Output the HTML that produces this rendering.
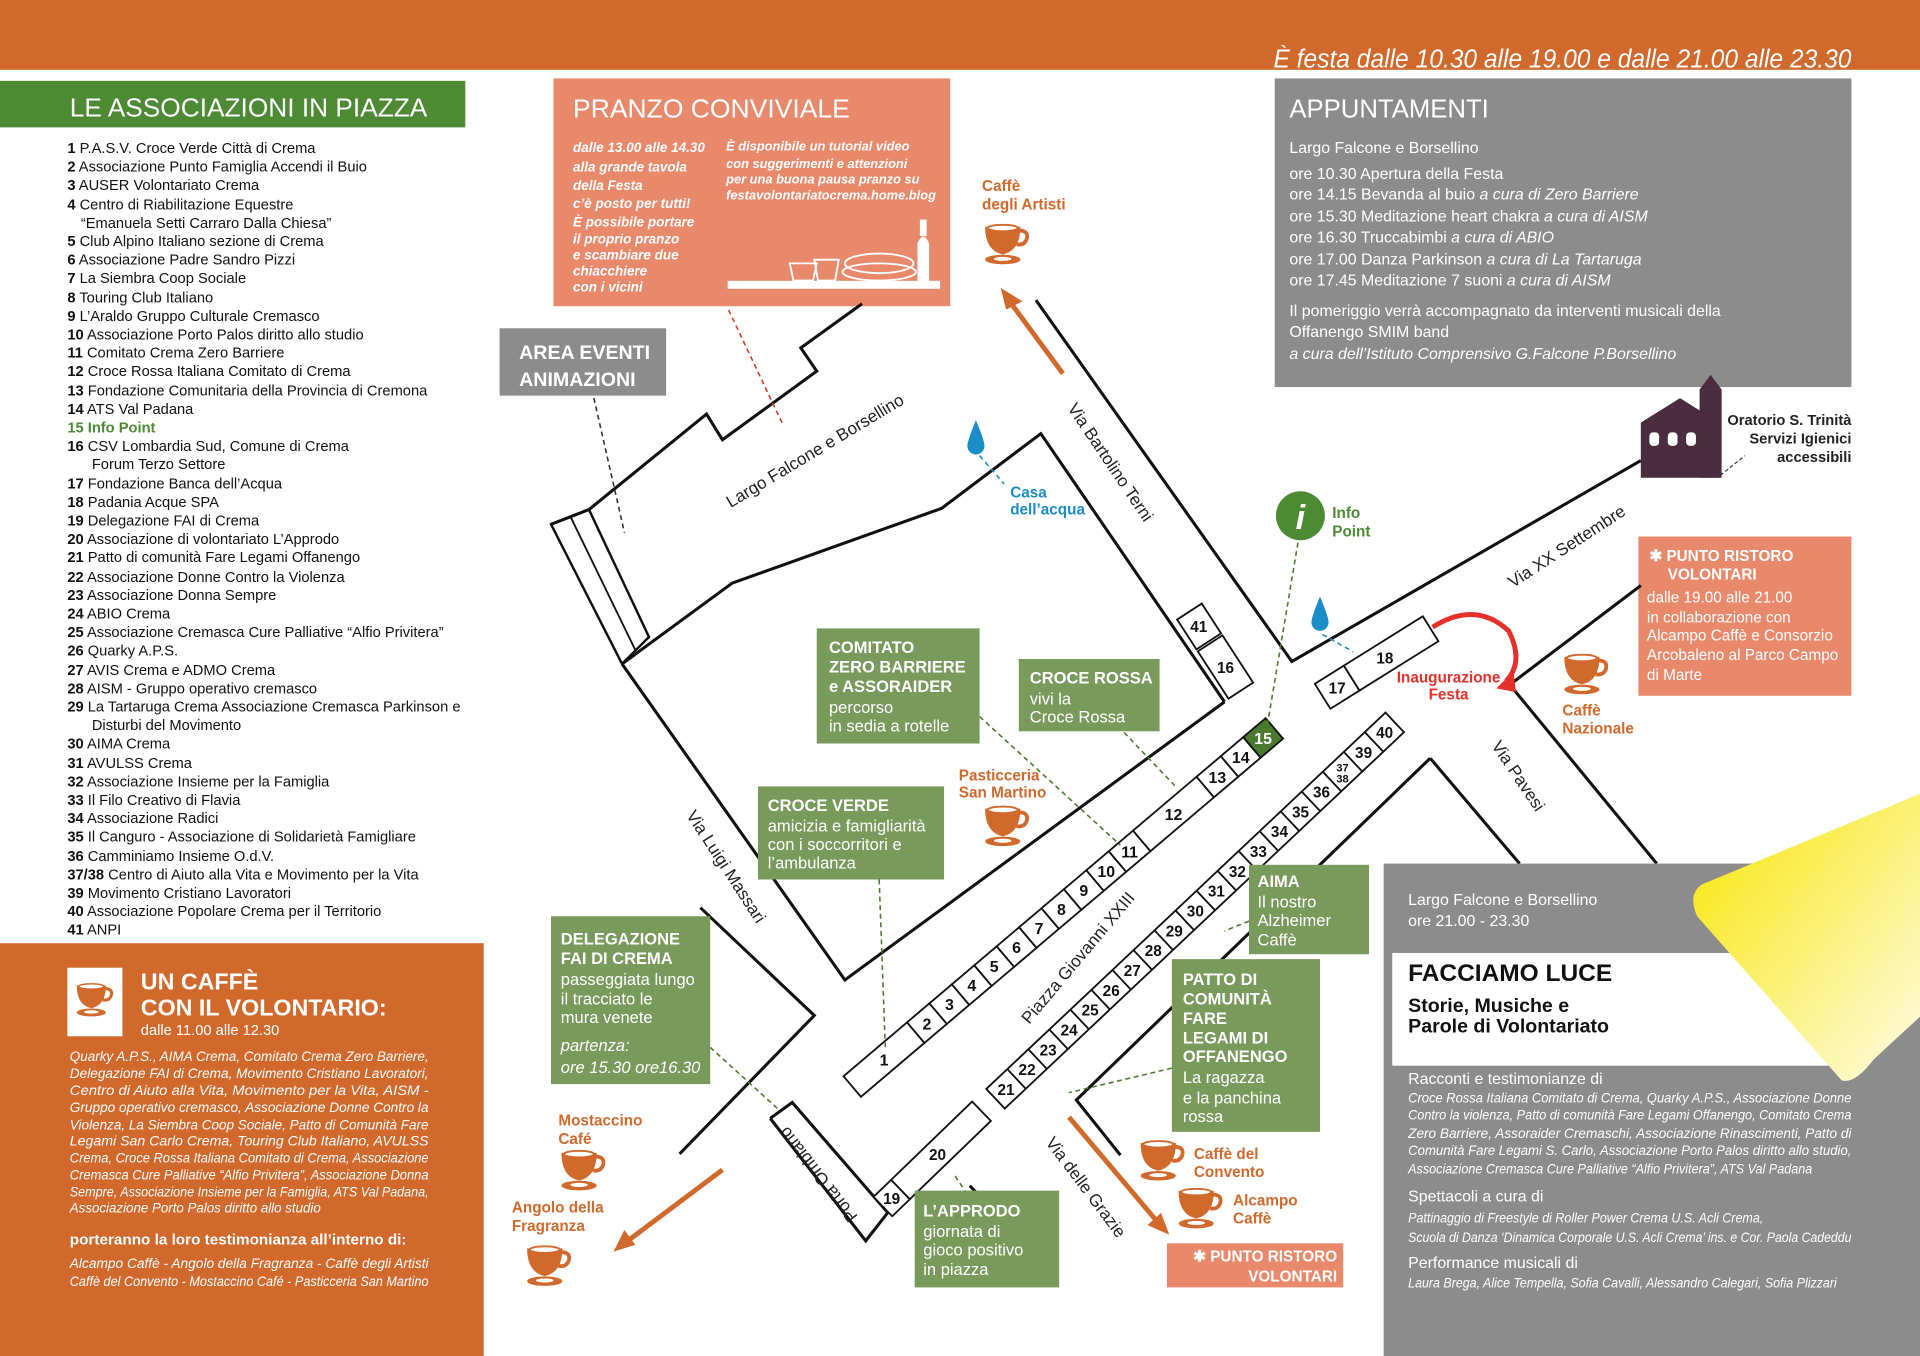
<!DOCTYPE html>
<html><head><meta charset="utf-8"><style>
html,body{margin:0;padding:0;background:#fff;}
svg{display:block;font-family:"Liberation Sans",sans-serif;}
</style></head><body>
<svg width="1920" height="1356" viewBox="0 0 1568 1107" preserveAspectRatio="none" xmlns="http://www.w3.org/2000/svg">
<defs>
<symbol id="cup" viewBox="0 0 40 36">
<path d="M2 5 H30 Q30 24 16 27 Q2 24 2 5 Z" fill="#d0692b"/>
<ellipse cx="16" cy="6" rx="12" ry="2.6" fill="#fff" stroke="#d0692b" stroke-width="1.5"/>
<path d="M29 8 Q37 8 35 15 Q33 20 27 19" fill="none" stroke="#d0692b" stroke-width="3"/>
<ellipse cx="16" cy="31" rx="14" ry="3.8" fill="#d0692b"/>
<ellipse cx="16" cy="30.5" rx="7" ry="1.6" fill="#fff"/>
</symbol>
<linearGradient id="beam" x1="0" y1="0" x2="1" y2="1">
<stop offset="0" stop-color="#f7e600"/><stop offset="1" stop-color="#fffbe6"/>
</linearGradient>
</defs>

<rect x="0" y="0" width="1568" height="57" fill="#d0692b"/>
<text x="1040" y="55" font-size="21" font-style="italic" fill="#fff" textLength="472" lengthAdjust="spacingAndGlyphs">È festa dalle 10.30 alle 19.00 e dalle 21.00 alle 23.30</text>

<rect x="0" y="66" width="380" height="38" fill="#4d8a34"/>
<text x="57" y="95" font-size="21" fill="#fff" textLength="292" lengthAdjust="spacingAndGlyphs">LE ASSOCIAZIONI IN PIAZZA</text>

<g font-size="12" fill="#111">
<text x="55" y="125"><tspan font-weight="bold">1</tspan> P.A.S.V. Croce Verde Città di Crema</text>
<text x="55" y="140"><tspan font-weight="bold">2</tspan> Associazione Punto Famiglia Accendi il Buio</text>
<text x="55" y="155"><tspan font-weight="bold">3</tspan> AUSER Volontariato Crema</text>
<text x="55" y="171"><tspan font-weight="bold">4</tspan> Centro di Riabilitazione Equestre</text>
<text x="66" y="186">“Emanuela Setti Carraro Dalla Chiesa”</text>
<text x="55" y="201"><tspan font-weight="bold">5</tspan> Club Alpino Italiano sezione di Crema</text>
<text x="55" y="216"><tspan font-weight="bold">6</tspan> Associazione Padre Sandro Pizzi</text>
<text x="55" y="231"><tspan font-weight="bold">7</tspan> La Siembra Coop Sociale</text>
<text x="55" y="247"><tspan font-weight="bold">8</tspan> Touring Club Italiano</text>
<text x="55" y="262"><tspan font-weight="bold">9</tspan> L’Araldo Gruppo Culturale Cremasco</text>
<text x="55" y="277"><tspan font-weight="bold">10</tspan> Associazione Porto Palos diritto allo studio</text>
<text x="55" y="292"><tspan font-weight="bold">11</tspan> Comitato Crema Zero Barriere</text>
<text x="55" y="307"><tspan font-weight="bold">12</tspan> Croce Rossa Italiana Comitato di Crema</text>
<text x="55" y="323"><tspan font-weight="bold">13</tspan> Fondazione Comunitaria della Provincia di Cremona</text>
<text x="55" y="338"><tspan font-weight="bold">14</tspan> ATS Val Padana</text>
<text x="55" y="353" fill="#4d8a34" font-weight="bold">15 Info Point</text>
<text x="55" y="368"><tspan font-weight="bold">16</tspan> CSV Lombardia Sud, Comune di Crema</text>
<text x="75" y="383">Forum Terzo Settore</text>
<text x="55" y="399"><tspan font-weight="bold">17</tspan> Fondazione Banca dell’Acqua</text>
<text x="55" y="414"><tspan font-weight="bold">18</tspan> Padania Acque SPA</text>
<text x="55" y="429"><tspan font-weight="bold">19</tspan> Delegazione FAI di Crema</text>
<text x="55" y="444"><tspan font-weight="bold">20</tspan> Associazione di volontariato L’Approdo</text>
<text x="55" y="459"><tspan font-weight="bold">21</tspan> Patto di comunità Fare Legami Offanengo</text>
<text x="55" y="475"><tspan font-weight="bold">22</tspan> Associazione Donne Contro la Violenza</text>
<text x="55" y="490"><tspan font-weight="bold">23</tspan> Associazione Donna Sempre</text>
<text x="55" y="505"><tspan font-weight="bold">24</tspan> ABIO Crema</text>
<text x="55" y="520"><tspan font-weight="bold">25</tspan> Associazione Cremasca Cure Palliative “Alfio Privitera”</text>
<text x="55" y="535"><tspan font-weight="bold">26</tspan> Quarky A.P.S.</text>
<text x="55" y="551"><tspan font-weight="bold">27</tspan> AVIS Crema e ADMO Crema</text>
<text x="55" y="566"><tspan font-weight="bold">28</tspan> AISM - Gruppo operativo cremasco</text>
<text x="55" y="581"><tspan font-weight="bold">29</tspan> La Tartaruga Crema Associazione Cremasca Parkinson e</text>
<text x="75" y="596">Disturbi del Movimento</text>
<text x="55" y="611"><tspan font-weight="bold">30</tspan> AIMA Crema</text>
<text x="55" y="627"><tspan font-weight="bold">31</tspan> AVULSS Crema</text>
<text x="55" y="642"><tspan font-weight="bold">32</tspan> Associazione Insieme per la Famiglia</text>
<text x="55" y="657"><tspan font-weight="bold">33</tspan> Il Filo Creativo di Flavia</text>
<text x="55" y="672"><tspan font-weight="bold">34</tspan> Associazione Radici</text>
<text x="55" y="687"><tspan font-weight="bold">35</tspan> Il Canguro - Associazione di Solidarietà Famigliare</text>
<text x="55" y="703"><tspan font-weight="bold">36</tspan> Camminiamo Insieme O.d.V.</text>
<text x="55" y="718"><tspan font-weight="bold">37/38</tspan> Centro di Aiuto alla Vita e Movimento per la Vita</text>
<text x="55" y="733"><tspan font-weight="bold">39</tspan> Movimento Cristiano Lavoratori</text>
<text x="55" y="748"><tspan font-weight="bold">40</tspan> Associazione Popolare Crema per il Territorio</text>
<text x="55" y="763"><tspan font-weight="bold">41</tspan> ANPI</text>
</g>

<rect x="0" y="770" width="395" height="337" fill="#d0692b"/>
<rect x="55" y="790" width="45" height="56" fill="#fff"/>
<use href="#cup" x="61" y="800" width="34" height="31"/>
<text x="115" y="808" font-size="19" font-weight="bold" fill="#fff">UN CAFFÈ</text>
<text x="115" y="829" font-size="19" font-weight="bold" fill="#fff">CON IL VOLONTARIO:</text>
<text x="115" y="845" font-size="12" fill="#fff">dalle 11.00 alle 12.30</text>
<g font-size="11.5" font-style="italic" fill="#fff">
<text x="57" y="866" textLength="293" lengthAdjust="spacingAndGlyphs">Quarky A.P.S., AIMA Crema, Comitato Crema Zero Barriere,</text>
<text x="57" y="880" textLength="293" lengthAdjust="spacingAndGlyphs">Delegazione FAI di Crema, Movimento Cristiano Lavoratori,</text>
<text x="57" y="894" textLength="293" lengthAdjust="spacingAndGlyphs">Centro di Aiuto alla Vita, Movimento per la Vita, AISM -</text>
<text x="57" y="908" textLength="293" lengthAdjust="spacingAndGlyphs">Gruppo operativo cremasco, Associazione Donne Contro la</text>
<text x="57" y="922" textLength="293" lengthAdjust="spacingAndGlyphs">Violenza, La Siembra Coop Sociale, Patto di Comunità Fare</text>
<text x="57" y="935" textLength="293" lengthAdjust="spacingAndGlyphs">Legami San Carlo Crema, Touring Club Italiano, AVULSS</text>
<text x="57" y="949" textLength="293" lengthAdjust="spacingAndGlyphs">Crema, Croce Rossa Italiana Comitato di Crema, Associazione</text>
<text x="57" y="963" textLength="293" lengthAdjust="spacingAndGlyphs">Cremasca Cure Palliative “Alfio Privitera”, Associazione Donna</text>
<text x="57" y="977" textLength="293" lengthAdjust="spacingAndGlyphs">Sempre, Associazione Insieme per la Famiglia, ATS Val Padana,</text>
<text x="57" y="990" textLength="205" lengthAdjust="spacingAndGlyphs">Associazione Porto Palos diritto allo studio</text>
<text x="57" y="1035" textLength="293" lengthAdjust="spacingAndGlyphs">Alcampo Caffè - Angolo della Fragranza - Caffè degli Artisti</text>
<text x="57" y="1050" textLength="293" lengthAdjust="spacingAndGlyphs">Caffè del Convento - Mostaccino Café - Pasticceria San Martino</text>
</g>
<text x="57" y="1016" font-size="12" font-weight="bold" fill="#fff" textLength="275" lengthAdjust="spacingAndGlyphs">porteranno la loro testimonianza all’interno di:</text>

<rect x="452" y="64" width="324" height="186" fill="#e9896b"/>
<text x="468" y="96" font-size="21" fill="#fff" textLength="226" lengthAdjust="spacingAndGlyphs">PRANZO CONVIVIALE</text>
<g font-size="11" font-style="italic" font-weight="bold" fill="#fff">
<text x="468" y="124">dalle 13.00 alle 14.30</text>
<text x="468" y="140">alla grande tavola</text>
<text x="468" y="155">della Festa</text>
<text x="468" y="170">c’è posto per tutti!</text>
<text x="468" y="185">È possibile portare</text>
<text x="468" y="199">il proprio pranzo</text>
<text x="468" y="212">e scambiare due</text>
<text x="468" y="225">chiacchiere</text>
<text x="468" y="238">con i vicini</text>
<text x="593" y="123" font-size="10.5">È disponibile un tutorial video</text>
<text x="593" y="137" font-size="10.5">con suggerimenti e attenzioni</text>
<text x="593" y="150" font-size="10.5">per una buona pausa pranzo su</text>
<text x="593" y="163" font-size="10.5">festavolontariatocrema.home.blog</text>
</g>
<g fill="none" stroke="#fff" stroke-width="1.5">
<rect x="595" y="230" width="172" height="5" fill="#fff"/>
<path d="M645 215 h22 l-3 14 h-16 z"/>
<path d="M665 212 h20 l-3 17 h-14 z"/>
<ellipse cx="718" cy="215" rx="28" ry="8"/>
<ellipse cx="718" cy="222" rx="30" ry="7"/>
<path d="M750 229 v-30 q4 -10 8 0 v30 z" fill="#fff"/>
<rect x="752" y="180" width="4" height="12" fill="#fff"/>
</g>

<rect x="408" y="268" width="136" height="55" fill="#8c8c8c"/>
<text x="424" y="293" font-size="16" fill="#fff" font-weight="bold">AREA EVENTI</text>
<text x="424" y="315" font-size="16" fill="#fff" font-weight="bold">ANIMAZIONI</text>

<rect x="1041" y="64" width="471" height="252" fill="#8c8c8c"/>
<text x="1053" y="96" font-size="21" fill="#fff">APPUNTAMENTI</text>
<g font-size="13" fill="#fff">
<text x="1053" y="125">Largo Falcone e Borsellino</text>
<text x="1053" y="146">ore 10.30 Apertura della Festa</text>
<text x="1053" y="163">ore 14.15 Bevanda al buio <tspan font-style="italic">a cura di Zero Barriere</tspan></text>
<text x="1053" y="181">ore 15.30 Meditazione heart chakra <tspan font-style="italic">a cura di AISM</tspan></text>
<text x="1053" y="198">ore 16.30 Truccabimbi <tspan font-style="italic">a cura di ABIO</tspan></text>
<text x="1053" y="216">ore 17.00 Danza Parkinson <tspan font-style="italic">a cura di La Tartaruga</tspan></text>
<text x="1053" y="233">ore 17.45 Meditazione 7 suoni <tspan font-style="italic">a cura di AISM</tspan></text>
<text x="1053" y="258">Il pomeriggio verrà accompagnato da interventi musicali della</text>
<text x="1053" y="275">Offanengo SMIM band</text>
<text x="1053" y="293" font-style="italic">a cura dell’Istituto Comprensivo G.Falcone P.Borsellino</text>
</g>

<g fill="#4a2c3e">
<polygon points="1340,345 1372,325 1404,345 1404,390 1340,390"/>
<rect x="1388" y="318" width="18" height="72"/>
<polygon points="1388,318 1397,306 1406,318"/>
</g>
<g fill="#fff"><rect x="1347" y="353" width="8" height="11" rx="3"/><rect x="1362" y="353" width="8" height="11" rx="3"/><rect x="1377" y="353" width="8" height="11" rx="3"/></g>
<line x1="1405" y1="388" x2="1425" y2="372" stroke="#333" stroke-dasharray="3,2"/>
<g font-size="12" font-weight="bold" fill="#222" text-anchor="end">
<text x="1512" y="347">Oratorio S. Trinità</text>
<text x="1512" y="362">Servizi Igienici</text>
<text x="1512" y="377">accessibili</text>
</g>

<rect x="1338" y="438" width="174" height="130" fill="#e9896b"/>
<g fill="#fff" font-size="12.5">
<text x="1347" y="458" font-weight="bold">✱ PUNTO RISTORO</text>
<text x="1362" y="473" font-weight="bold">VOLONTARI</text>
<text x="1345" y="492">dalle 19.00 alle 21.00</text>
<text x="1345" y="508">in collaborazione con</text>
<text x="1345" y="523">Alcampo Caffè e Consorzio</text>
<text x="1345" y="539">Arcobaleno al Parco Campo</text>
<text x="1345" y="555">di Marte</text>
</g>

<g fill="none" stroke="#111" stroke-width="2.5" stroke-linejoin="miter">
<polyline points="450,428 481,416 577,338 590,359 667,303 654,284 704,248"/>
<polyline points="508,542 598,476 769,415 850,354 1000,573"/>
<polyline points="1000,573 690,800 508,542"/>
<polygon points="450,428 481,416 530,520 508,542" stroke-width="2"/>
<line x1="466" y1="422" x2="519" y2="531" stroke-width="1.5"/>
<polyline points="846,245 1055,540 1340,376"/>
<polyline points="1233,559 1340,478"/>
<polyline points="1233,559 1353,705"/>
<polyline points="1168,619 1241,705"/>
<polyline points="1168,619 879,898 915,943"/>
<polyline points="572,741 665,829 555,942"/>
<polyline points="629,913 647,900 725,990 707,1013 629,913"/>
<polyline points="792,968 808,985"/>
</g>

<g transform="translate(696,887) rotate(-40.3)" stroke="#111" stroke-width="1.5" fill="#fff">
<rect x="0" y="-11" width="68" height="22"/>
<rect x="68" y="-11" width="24" height="22"/><rect x="92" y="-11" width="24" height="22"/><rect x="116" y="-11" width="24" height="22"/><rect x="140" y="-11" width="24" height="22"/><rect x="164" y="-11" width="24" height="22"/><rect x="188" y="-11" width="24" height="22"/><rect x="212" y="-11" width="24" height="22"/><rect x="236" y="-11" width="24" height="22"/><rect x="260" y="-11" width="24" height="22"/><rect x="284" y="-11" width="26" height="22"/>
<rect x="310" y="-11" width="68" height="22"/>
<rect x="378" y="-11" width="26" height="22"/><rect x="404" y="-11" width="24" height="22"/>
<rect x="428" y="-11" width="24" height="22" fill="#4a7a2e"/>
<g stroke="none" fill="#111" font-size="13" font-weight="bold" text-anchor="middle">
<text transform="translate(34,0) rotate(40.3)" dy="5">1</text>
<text transform="translate(80,0) rotate(40.3)" dy="5">2</text>
<text transform="translate(104,0) rotate(40.3)" dy="5">3</text>
<text transform="translate(128,0) rotate(40.3)" dy="5">4</text>
<text transform="translate(152,0) rotate(40.3)" dy="5">5</text>
<text transform="translate(176,0) rotate(40.3)" dy="5">6</text>
<text transform="translate(200,0) rotate(40.3)" dy="5">7</text>
<text transform="translate(224,0) rotate(40.3)" dy="5">8</text>
<text transform="translate(248,0) rotate(40.3)" dy="5">9</text>
<text transform="translate(272,0) rotate(40.3)" dy="5">10</text>
<text transform="translate(297,0) rotate(40.3)" dy="5">11</text>
<text transform="translate(344,0) rotate(40.3)" dy="5">12</text>
<text transform="translate(391,0) rotate(40.3)" dy="5">13</text>
<text transform="translate(416,0) rotate(40.3)" dy="5">14</text>
<text transform="translate(440,0) rotate(40.3)" dy="5" fill="#fff">15</text>
</g>
</g>

<g transform="translate(813,897) rotate(-43.3)" stroke="#111" stroke-width="1.5" fill="#fff">
<rect x="0" y="-11" width="448" height="22"/>
<path d="M23.6 -11v22M47.2 -11v22M70.8 -11v22M94.4 -11v22M118 -11v22M141.6 -11v22M165.2 -11v22M188.8 -11v22M212.4 -11v22M236 -11v22M259.6 -11v22M283.2 -11v22M306.8 -11v22M330.4 -11v22M354 -11v22M377.6 -11v22M401.2 -11v22M424.8 -11v22"/>
<g stroke="none" fill="#111" font-size="12.5" font-weight="bold" text-anchor="middle">
<text transform="translate(11.8,0) rotate(43.3)" dy="5">21</text>
<text transform="translate(35.4,0) rotate(43.3)" dy="5">22</text>
<text transform="translate(59,0) rotate(43.3)" dy="5">23</text>
<text transform="translate(82.6,0) rotate(43.3)" dy="5">24</text>
<text transform="translate(106.2,0) rotate(43.3)" dy="5">25</text>
<text transform="translate(129.8,0) rotate(43.3)" dy="5">26</text>
<text transform="translate(153.4,0) rotate(43.3)" dy="5">27</text>
<text transform="translate(177,0) rotate(43.3)" dy="5">28</text>
<text transform="translate(200.6,0) rotate(43.3)" dy="5">29</text>
<text transform="translate(224.2,0) rotate(43.3)" dy="5">30</text>
<text transform="translate(247.8,0) rotate(43.3)" dy="5">31</text>
<text transform="translate(271.4,0) rotate(43.3)" dy="5">32</text>
<text transform="translate(295,0) rotate(43.3)" dy="5">33</text>
<text transform="translate(318.6,0) rotate(43.3)" dy="5">34</text>
<text transform="translate(342.2,0) rotate(43.3)" dy="5">35</text>
<text transform="translate(365.8,0) rotate(43.3)" dy="5">36</text>
<text transform="translate(389.4,0) rotate(43.3)" dy="0" font-size="9">37</text>
<text transform="translate(389.4,0) rotate(43.3)" dy="9" font-size="9">38</text>
<text transform="translate(413,0) rotate(43.3)" dy="5">39</text>
<text transform="translate(436.6,0) rotate(43.3)" dy="5">40</text>
</g>
</g>

<g transform="translate(721,985) rotate(-44)" stroke="#111" stroke-width="1.5" fill="#fff">
<rect x="0" y="-11" width="20" height="22"/><rect x="20" y="-11" width="92" height="22"/>
<g stroke="none" fill="#111" font-size="12.5" font-weight="bold" text-anchor="middle">
<text transform="translate(10,0) rotate(44)" dy="5">19</text>
<text transform="translate(62,0) rotate(44)" dy="5">20</text>
</g></g>
<g transform="translate(979,511) rotate(57)" stroke="#111" stroke-width="1.5" fill="#fff">
<rect x="-14" y="-12" width="29" height="24"/><rect x="17" y="-12" width="46" height="24"/>
<g stroke="none" fill="#111" font-size="12.5" font-weight="bold" text-anchor="middle">
<text transform="rotate(-57)" dy="5">41</text>
<text transform="translate(40,0) rotate(-57)" dy="5">16</text>
</g></g>
<g transform="translate(1092,561) rotate(-32)" stroke="#111" stroke-width="1.5" fill="#fff">
<rect x="-14" y="-12" width="28" height="24"/><rect x="14" y="-12" width="76" height="24"/>
<g stroke="none" fill="#111" font-size="12.5" font-weight="bold" text-anchor="middle">
<text transform="rotate(32)" dy="5">17</text>
<text transform="translate(46,0) rotate(32)" dy="5">18</text>
</g></g>

<g font-size="14" fill="#222" text-anchor="middle">
<text transform="translate(668,372) rotate(-31)">Largo Falcone e Borsellino</text>
<text transform="translate(903,380) rotate(56)">Via Bartolino Terni</text>
<text transform="translate(1282,450) rotate(-33)">Via XX Settembre</text>
<text transform="translate(1236,636) rotate(56)">Via Pavesi</text>
<text transform="translate(884,785) rotate(-50)">Piazza Giovanni XXIII</text>
<text transform="translate(589,710) rotate(57)">Via Luigi Massari</text>
<text transform="translate(672,956) rotate(232)">Porta Ombiano</text>
<text transform="translate(883,972) rotate(53)">Via delle Grazie</text>
</g>

<g fill="none" stroke-dasharray="4,3" stroke-width="1.3">
<line x1="595" y1="253" x2="640" y2="348" stroke="#d03a20"/>
<line x1="485" y1="325" x2="510" y2="435" stroke="#333"/>
<line x1="800" y1="372" x2="820" y2="395" stroke="#1a8cc8"/>
<line x1="1080" y1="518" x2="1105" y2="532" stroke="#1a8cc8"/>
<g stroke="#4d7a2e">
<line x1="1060" y1="443" x2="1035" y2="592"/>
<line x1="800" y1="585" x2="915" y2="690"/>
<line x1="918" y1="598" x2="960" y2="642"/>
<line x1="718" y1="718" x2="723" y2="855"/>
<line x1="580" y1="855" x2="635" y2="905"/>
<line x1="1020" y1="752" x2="1000" y2="760"/>
<line x1="957" y1="872" x2="873" y2="892"/>
<line x1="780" y1="960" x2="790" y2="975"/>
</g></g>

<path d="M797 343 Q790 360 790 364 A7 7 0 0 0 804 364 Q804 360 797 343Z" fill="#1a8cc8"/>
<path d="M1078 487 Q1071 504 1071 508 A7 7 0 0 0 1085 508 Q1085 504 1078 487Z" fill="#1a8cc8"/>
<text x="825" y="406" font-size="12.5" font-weight="bold" fill="#1a8cc8">Casa</text>
<text x="825" y="420" font-size="12.5" font-weight="bold" fill="#1a8cc8">dell’acqua</text>

<circle cx="1062" cy="421" r="20" fill="#4d8a34"/>
<text x="1062" y="432" font-size="28" font-weight="bold" font-style="italic" fill="#fff" text-anchor="middle">i</text>
<text x="1088" y="423" font-size="12.5" font-weight="bold" fill="#4d8a34">Info</text>
<text x="1088" y="438" font-size="12.5" font-weight="bold" fill="#4d8a34">Point</text>

<g stroke="#d0692b" stroke-width="4" fill="#d0692b">
<line x1="868" y1="305" x2="826" y2="248"/><polygon points="818,236 834,246 822,252" stroke-width="1"/>
<line x1="590" y1="955" x2="514" y2="1012"/><polygon points="502,1021 510,1005 518,1016" stroke-width="1"/>
<line x1="873" y1="912" x2="944" y2="996"/><polygon points="954,1007 938,1000 948,991" stroke-width="1"/>
</g>

<path d="M1170 512 Q1205 490 1232 515 Q1245 540 1230 556" fill="none" stroke="#e5302a" stroke-width="4"/>
<polygon points="1222,562 1236,548 1238,565" fill="#e5302a"/>
<text x="1183" y="557" font-size="12.5" font-weight="bold" fill="#e5302a" text-anchor="middle">Inaugurazione</text>
<text x="1183" y="571" font-size="12.5" font-weight="bold" fill="#e5302a" text-anchor="middle">Festa</text>

<g font-size="12.5" font-weight="bold" fill="#d0692b">
<use href="#cup" x="802" y="180" width="42" height="37"/>
<text x="802" y="156">Caffè</text><text x="802" y="171">degli Artisti</text>
<use href="#cup" x="802" y="655" width="42" height="37"/>
<text x="783" y="637">Pasticceria</text><text x="783" y="651">San Martino</text>
<use href="#cup" x="1275" y="531" width="42" height="37"/>
<text x="1276" y="584">Caffè</text><text x="1276" y="599">Nazionale</text>
<use href="#cup" x="456" y="936" width="42" height="37"/>
<text x="456" y="919">Mostaccino</text><text x="456" y="934">Café</text>
<use href="#cup" x="428" y="1014" width="42" height="37"/>
<text x="418" y="990">Angolo della</text><text x="418" y="1005">Fragranza</text>
<use href="#cup" x="929" y="928" width="42" height="37"/>
<text x="975" y="946">Caffè del</text><text x="975" y="961">Convento</text>
<use href="#cup" x="960" y="967" width="42" height="37"/>
<text x="1007" y="984">Alcampo</text><text x="1007" y="999">Caffè</text>
</g>

<g fill="#789a5b">
<rect x="667" y="513" width="133" height="94"/>
<rect x="832" y="538" width="115" height="59"/>
<rect x="619" y="642" width="152" height="76"/>
<rect x="450" y="748" width="130" height="137"/>
<rect x="1020" y="706" width="98" height="73"/>
<rect x="957" y="783" width="121" height="141"/>
<rect x="747" y="972" width="118" height="79"/>
</g>
<g fill="#fff" font-size="13.5">
<g font-weight="bold"><text x="677" y="533">COMITATO</text><text x="677" y="549">ZERO BARRIERE</text><text x="677" y="565">e ASSORAIDER</text></g>
<text x="677" y="582">percorso</text><text x="677" y="597">in sedia a rotelle</text>
<text x="841" y="558" font-weight="bold">CROCE ROSSA</text><text x="841" y="575">vivi la</text><text x="841" y="590">Croce Rossa</text>
<text x="627" y="662" font-weight="bold">CROCE VERDE</text><text x="627" y="679">amicizia e famigliarità</text><text x="627" y="694">con i soccorritori e</text><text x="627" y="709">l’ambulanza</text>
<g font-weight="bold"><text x="458" y="771">DELEGAZIONE</text><text x="458" y="787">FAI  DI CREMA</text></g>
<text x="458" y="804">passeggiata lungo</text><text x="458" y="820">il tracciato le</text><text x="458" y="835">mura venete</text>
<text x="458" y="858" font-style="italic">partenza:</text><text x="458" y="876" font-style="italic">ore 15.30 ore16.30</text>
<text x="1027" y="724" font-weight="bold">AIMA</text><text x="1027" y="741">Il nostro</text><text x="1027" y="756">Alzheimer</text><text x="1027" y="772">Caffè</text>
<g font-weight="bold"><text x="966" y="804">PATTO DI</text><text x="966" y="820">COMUNITÀ</text><text x="966" y="836">FARE</text><text x="966" y="852">LEGAMI DI</text><text x="966" y="867">OFFANENGO</text></g>
<text x="966" y="884">La ragazza</text><text x="966" y="901">e la panchina</text><text x="966" y="916">rossa</text>
<text x="754" y="993" font-weight="bold">L’APPRODO</text><text x="754" y="1010">giornata di</text><text x="754" y="1025">gioco positivo</text><text x="754" y="1041">in piazza</text>
</g>

<rect x="953" y="1015" width="144" height="36" fill="#e9896b"/>
<text x="1092" y="1030" font-size="12.5" font-weight="bold" fill="#fff" text-anchor="end">✱ PUNTO RISTORO</text>
<text x="1092" y="1046" font-size="12.5" font-weight="bold" fill="#fff" text-anchor="end">VOLONTARI</text>

<rect x="1130" y="705" width="438" height="402" fill="#8c8c8c"/>
<rect x="1137" y="778" width="370" height="92" fill="#fff"/>
<path d="M1390 722 Q1378 730 1386 748 L1504 882 Q1515 885 1530 865 L1568 830 L1568 648 Z" fill="url(#beam)"/>
<text x="1150" y="739" font-size="13" fill="#fff">Largo Falcone e Borsellino</text>
<text x="1150" y="756" font-size="13" fill="#fff">ore 21.00 - 23.30</text>
<text x="1150" y="801" font-size="20" font-weight="bold" fill="#111">FACCIAMO LUCE</text>
<text x="1150" y="826" font-size="16" font-weight="bold" fill="#111">Storie, Musiche e</text>
<text x="1150" y="843" font-size="16" font-weight="bold" fill="#111">Parole di Volontariato</text>
<text x="1150" y="885" font-size="13" fill="#fff">Racconti e testimonianze di</text>
<g font-size="11.5" font-style="italic" fill="#fff">
<text x="1150" y="900" textLength="362" lengthAdjust="spacingAndGlyphs">Croce Rossa Italiana Comitato di Crema, Quarky A.P.S., Associazione Donne</text>
<text x="1150" y="914" textLength="362" lengthAdjust="spacingAndGlyphs">Contro la violenza, Patto di comunità Fare Legami Offanengo, Comitato Crema</text>
<text x="1150" y="929" textLength="362" lengthAdjust="spacingAndGlyphs">Zero Barriere, Assoraider Cremaschi, Associazione Rinascimenti, Patto di</text>
<text x="1150" y="943" textLength="362" lengthAdjust="spacingAndGlyphs">Comunità Fare Legami S. Carlo, Associazione Porto Palos diritto allo studio,</text>
<text x="1150" y="958" textLength="330" lengthAdjust="spacingAndGlyphs">Associazione Cremasca Cure Palliative “Alfio Privitera”, ATS Val Padana</text>
<text x="1150" y="998" textLength="290" lengthAdjust="spacingAndGlyphs">Pattinaggio di Freestyle di Roller Power Crema U.S. Acli Crema,</text>
<text x="1150" y="1014" textLength="362" lengthAdjust="spacingAndGlyphs">Scuola di Danza ‘Dinamica Corporale U.S. Acli Crema’ ins. e Cor. Paola Cadeddu</text>
<text x="1150" y="1051" textLength="350" lengthAdjust="spacingAndGlyphs">Laura Brega, Alice Tempella, Sofia Cavalli, Alessandro Calegari, Sofia Plizzari</text>
</g>
<text x="1150" y="981" font-size="13" fill="#fff">Spettacoli a cura di</text>
<text x="1150" y="1035" font-size="13" fill="#fff">Performance musicali di</text>
</svg>
</body></html>
